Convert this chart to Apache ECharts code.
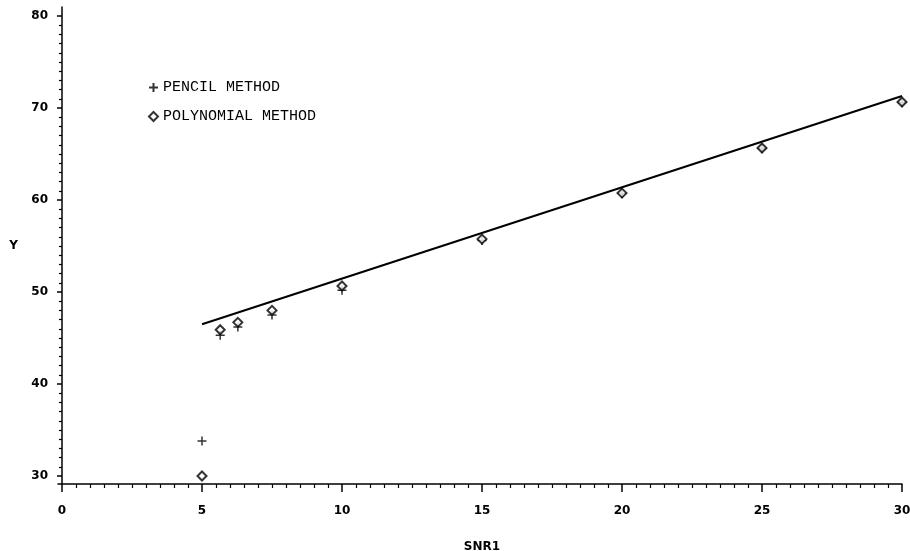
<!DOCTYPE html>
<html>
<head>
<meta charset="utf-8">
<script src="https://cdn.jsdelivr.net/npm/echarts@6/dist/echarts.min.js"></script>
<style>
html,body{margin:0;padding:0;background:#fff;}
#chart{width:910px;height:551px;}
</style>
</head>
<body>
<div id="chart"></div>
<script>
// ---- data ----
const xValues = [5, 5.65, 6.28, 7.5, 10, 15, 20, 25, 30];
const pencilY = [33.8, 45.3, 46.2, 47.5, 50.2, 55.6, 60.7, 65.6, 70.6];
const polyY   = [30.0, 45.9, 46.7, 48.0, 50.65, 55.75, 60.75, 65.65, 70.65];
const fitX = [5, 30];
const fitY = [46.5, 71.3];
const xTicks = { min: 0, max: 30, interval: 5 };
const yTicks = { min: 30, max: 80, interval: 10 };
const seriesNames = ['PENCIL METHOD', 'POLYNOMIAL METHOD'];
const xName = 'SNR1';
const yName = 'Y';

const plusPath = 'path://M-1,0L1,0M0,-1L0,1';
const diamondPath = 'path://M0,-1L1,0L0,1L-1,0Z';

const zip = (xs, ys) => xs.map((x, i) => [x, ys[i]]);

const labelFont = { fontFamily: 'DejaVu Sans', fontWeight: 'bold', fontSize: 12, color: '#000' };

const chart = echarts.init(document.getElementById('chart'), null, { renderer: 'canvas' });
chart.setOption({
  animation: false,
  backgroundColor: '#fff',
  grid: [
    { left: 58, right: 8, top: 7, bottom: 67, outerBoundsMode: 'none', containLabel: false },
    { left: 62, right: 8, top: 16, bottom: 75, outerBoundsMode: 'none', containLabel: false }
  ],
  legend: {
    orient: 'vertical',
    left: 143,
    top: 75,
    itemGap: 14,
    itemWidth: 9,
    itemHeight: 9,
    itemTextGap: 13,
    selectedMode: false,
    textStyle: { fontFamily: 'Liberation Mono', fontSize: 15, color: '#000' },
    data: [
      { name: seriesNames[0], icon: plusPath },
      { name: seriesNames[1], icon: diamondPath }
    ]
  },
  xAxis: [
    {
      gridIndex: 0, type: 'value', min: -0.1429, max: 30,
      axisLine: { show: true, lineStyle: { color: '#000', width: 1.5 } },
      axisTick: { show: false }, axisLabel: { show: false }, splitLine: { show: false }
    },
    {
      gridIndex: 1, type: 'value', position: 'bottom', offset: 8,
      min: xTicks.min, max: xTicks.max, interval: xTicks.interval,
      axisLine: { show: false },
      axisTick: { show: true, inside: false, length: 8, lineStyle: { color: '#000', width: 1.5 } },
      minorTick: { show: true, splitNumber: 10, length: 4, lineStyle: { color: '#000', width: 1.2 } },
      axisLabel: Object.assign({ margin: 21 }, labelFont),
      splitLine: { show: false }, minorSplitLine: { show: false },
      name: xName, nameLocation: 'middle', nameGap: 57,
      nameTextStyle: labelFont
    }
  ],
  yAxis: [
    {
      gridIndex: 0, type: 'value', min: 29.13, max: 80.98,
      axisLine: { show: true, lineStyle: { color: '#000', width: 1.5 } },
      axisTick: { show: false }, axisLabel: { show: false }, splitLine: { show: false }
    },
    {
      gridIndex: 1, type: 'value', position: 'left', offset: 4,
      min: yTicks.min, max: yTicks.max, interval: yTicks.interval,
      axisLine: { show: false },
      axisTick: { show: true, inside: false, length: 5, lineStyle: { color: '#000', width: 1.5 } },
      minorTick: { show: true, splitNumber: 10, length: 3, lineStyle: { color: '#000', width: 1.2 } },
      axisLabel: Object.assign({ margin: 10 }, labelFont),
      splitLine: { show: false }, minorSplitLine: { show: false },
      name: yName, nameLocation: 'middle', nameGap: 40, nameRotate: 0,
      nameTextStyle: labelFont
    }
  ],
  series: [
    {
      name: 'fit', type: 'line', xAxisIndex: 0, yAxisIndex: 0,
      data: zip(fitX, fitY), symbol: 'none',
      lineStyle: { color: '#000', width: 2 }, z: 1
    },
    {
      name: seriesNames[0], type: 'scatter', xAxisIndex: 0, yAxisIndex: 0,
      data: zip(xValues, pencilY), symbol: plusPath, symbolSize: 9,
      itemStyle: { color: 'rgba(0,0,0,0)', borderColor: '#000', borderWidth: 1.5 }, z: 2
    },
    {
      name: seriesNames[1], type: 'scatter', xAxisIndex: 0, yAxisIndex: 0,
      data: zip(xValues, polyY), symbol: diamondPath, symbolSize: 9,
      itemStyle: { color: '#fff', borderColor: '#000', borderWidth: 2 }, z: 3
    }
  ]
});
</script>
</body>
</html>
